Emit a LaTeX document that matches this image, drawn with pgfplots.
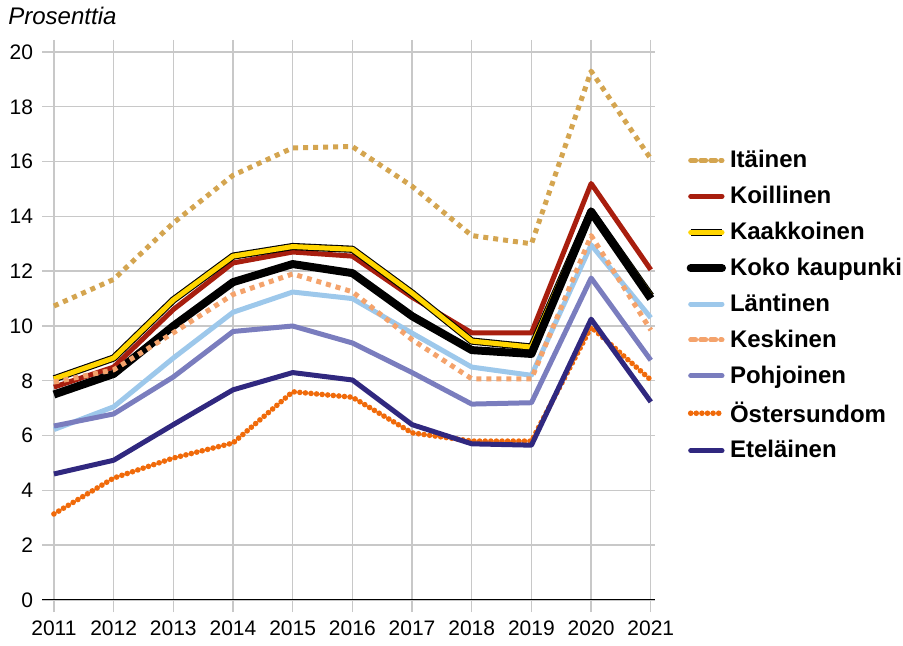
\documentclass[border=0pt]{standalone}
\usepackage{pgfplots}
\pgfplotsset{compat=1.18}
\usepackage{fontspec}
\setmainfont{Liberation Sans}
\definecolor{cIta}{RGB}{212,165,80}
\definecolor{cKoi}{RGB}{168,30,14}
\definecolor{cKaa}{RGB}{255,213,0}
\definecolor{cLan}{RGB}{157,200,235}
\definecolor{cKes}{RGB}{244,163,108}
\definecolor{cPoh}{RGB}{122,125,190}
\definecolor{cOst}{RGB}{240,106,10}
\definecolor{cEte}{RGB}{48,40,127}
\definecolor{cGrid}{RGB}{200,200,200}
\begin{document}
\begin{tikzpicture}
\useasboundingbox (-21pt,-23pt) rectangle (430.5pt,300pt);
\begin{axis}[
  scale only axis,
  width=306.5pt, height=274pt,
  xmin=2010.8, xmax=2021.07,
  ymin=0, ymax=20,
  xtick={2011,...,2021},
  ytick={0,2,...,20},
  /pgf/number format/1000 sep={},
  /pgf/number format/assume math mode=true,
  axis line style={draw=none},
  grid=major,
  major grid style={cGrid, line width=0.7pt},
  x tick style={cGrid, line width=0.7pt},
  xtick align=outside,
  major tick length=6pt,
  y tick style={draw=none},
  tick label style={font=\fontsize{10.5}{12}\selectfont},
  yticklabel style={xshift=-1pt},
  xticklabel style={yshift=-1pt},
  legend style={draw=none, fill=none, at={(axis description cs:1.038,0.836)}, anchor=north west,
    font=\bfseries\fontsize{12}{15}\selectfont, row sep=3.75pt, inner xsep=4pt},
  legend cell align=left,
  every axis plot/.append style={line join=round},
  legend image code/.code={\draw[line cap=round, #1] (0cm,0cm) -- (0.55cm,0cm);},
]
\addplot[cIta, line width=2.5pt, line cap=butt, dash pattern=on 2.5pt off 2.5pt] coordinates {
(2011,10.73) (2012,11.7) (2013,13.76) (2014,15.5) (2015,16.5) (2016,16.55) (2017,15.1) (2018,13.3) (2019,13.0) (2020,19.3) (2021,16.1)};
\addlegendentry{Itäinen}
\addplot[cKoi, line width=2.5pt] coordinates {
(2011,7.77) (2012,8.5) (2013,10.6) (2014,12.3) (2015,12.7) (2016,12.55) (2017,11.05) (2018,9.75) (2019,9.75) (2020,15.2) (2021,12.05)};
\addlegendentry{Koillinen}
\addplot[cKaa, line width=2.5pt, preaction={draw, black, line width=3.6pt}] coordinates {
(2011,8.07) (2012,8.83) (2013,10.95) (2014,12.55) (2015,12.9) (2016,12.8) (2017,11.2) (2018,9.45) (2019,9.23) (2020,14.2) (2021,11.1)};
\addlegendentry{Kaakkoinen}
\addplot[black, line width=4pt] coordinates {
(2011,7.5) (2012,8.25) (2013,10.0) (2014,11.6) (2015,12.26) (2016,11.93) (2017,10.36) (2018,9.12) (2019,8.98) (2020,14.16) (2021,11.0)};
\addlegendentry{Koko kaupunki}
\addplot[cLan, line width=2.5pt] coordinates {
(2011,6.22) (2012,7.05) (2013,8.83) (2014,10.5) (2015,11.24) (2016,11.0) (2017,9.74) (2018,8.5) (2019,8.2) (2020,12.96) (2021,10.3)};
\addlegendentry{Läntinen}
\addplot[cKes, line width=2.5pt, line cap=butt, dash pattern=on 2.5pt off 2.5pt] coordinates {
(2011,7.95) (2012,8.4) (2013,9.75) (2014,11.15) (2015,11.9) (2016,11.25) (2017,9.5) (2018,8.07) (2019,8.07) (2020,13.3) (2021,9.85)};
\addlegendentry{Keskinen}
\addplot[cPoh, line width=2.5pt] coordinates {
(2011,6.35) (2012,6.79) (2013,8.14) (2014,9.8) (2015,10.0) (2016,9.38) (2017,8.3) (2018,7.15) (2019,7.2) (2020,11.75) (2021,8.75)};
\addlegendentry{Pohjoinen}
\addplot[cOst, line width=2.8pt, line cap=round, dash pattern=on 0pt off 2.8pt] coordinates {
(2011,3.14) (2012,4.45) (2013,5.18) (2014,5.73) (2015,7.6) (2016,7.4) (2017,6.1) (2018,5.8) (2019,5.8) (2020,9.96) (2021,8.03)};
\addlegendentry{Östersundom}
\addplot[cEte, line width=2.5pt] coordinates {
(2011,4.6) (2012,5.1) (2013,6.4) (2014,7.67) (2015,8.3) (2016,8.03) (2017,6.4) (2018,5.7) (2019,5.65) (2020,10.25) (2021,7.23)};
\addlegendentry{Eteläinen}
\draw[black, line width=1pt] (rel axis cs:0,0) -- (rel axis cs:1,0);
\end{axis}
\node[anchor=base west, inner sep=0pt, font=\itshape\fontsize{12}{14}\selectfont] at (-17pt,287.5pt) {Prosenttia};
\end{tikzpicture}
\end{document}
